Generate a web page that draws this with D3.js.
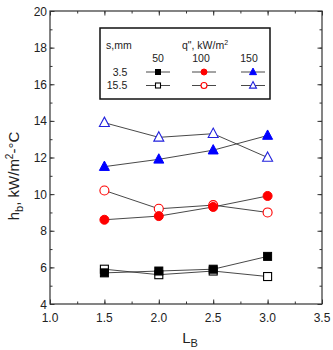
<!DOCTYPE html>
<html><head><meta charset="utf-8">
<script src="https://cdn.jsdelivr.net/npm/d3@7"></script>
<style>body{margin:0;background:#fff}svg{display:block;font-family:Arial,"Liberation Sans",sans-serif}</style>
</head><body><svg id="c" width="333" height="350"></svg>
<script>
const xVals = [1.5, 2.0, 2.5, 3.0];
const xTicks = [1.0, 1.5, 2.0, 2.5, 3.0, 3.5];
const yTicks = [4, 6, 8, 10, 12, 14, 16, 18, 20];
const q50_s35 = [5.7, 5.8, 5.9, 6.6];
const q50_s155 = [5.9, 5.6, 5.8, 5.5];
const q100_s35 = [8.6, 8.8, 9.3, 9.9];
const q100_s155 = [10.2, 9.2, 9.4, 9.0];
const q150_s35 = [11.5, 11.9, 12.4, 13.2];
const q150_s155 = [13.9, 13.1, 13.3, 12.0];

const series = [
  {v: q50_s155, shape: "square", color: "#000", fill: false},
  {v: q50_s35, shape: "square", color: "#000", fill: true},
  {v: q100_s155, shape: "circle", color: "#ff0000", fill: false},
  {v: q100_s35, shape: "circle", color: "#ff0000", fill: true},
  {v: q150_s155, shape: "triangle", color: "#2222dd", fill: false},
  {v: q150_s35, shape: "triangle", color: "#0000ff", fill: true}
];

const L = 50, R = 322, T = 11, B = 304;
const svg = d3.select("#c");
const x = d3.scaleLinear().domain([1.0, 3.5]).range([L, R]);
const y = d3.scaleLinear().domain([4, 20]).range([B, T]);

const minorX = d3.range(1.0, 3.51, 0.25);
const minorY = d3.range(4, 20.01, 1);

// frame
svg.append("rect").attr("x", L).attr("y", T).attr("width", R - L).attr("height", B - T)
  .attr("fill", "none").attr("stroke", "#333").attr("stroke-width", 1.2);

function ticksG(axisGen, tx, ty, vals, size) {
  const g = svg.append("g").attr("transform", `translate(${tx},${ty})`)
    .call(axisGen.tickValues(vals).tickSize(size).tickFormat(""));
  g.select(".domain").remove();
  g.selectAll("line").attr("stroke", "#333");
  return g;
}
// inward ticks
ticksG(d3.axisTop(x), 0, B, minorX, 2.5);
ticksG(d3.axisTop(x), 0, B, xTicks, 4.5);
ticksG(d3.axisBottom(x), 0, T, minorX, 2.5);
ticksG(d3.axisBottom(x), 0, T, xTicks, 4.5);
ticksG(d3.axisRight(y), L, 0, minorY, 2.5);
ticksG(d3.axisRight(y), L, 0, yTicks, 4.5);
ticksG(d3.axisLeft(y), R, 0, minorY, 2.5);
ticksG(d3.axisLeft(y), R, 0, yTicks, 4.5);

// tick labels
svg.append("g").selectAll("text").data(xTicks).join("text")
  .attr("x", d => x(d)).attr("y", B + 18).attr("text-anchor", "middle")
  .attr("font-size", 12).attr("fill", "#222").text(d => d3.format(".1f")(d));
svg.append("g").selectAll("text").data(yTicks).join("text")
  .attr("x", L - 3).attr("y", d => y(d) + 4.5).attr("text-anchor", "end")
  .attr("font-size", 12).attr("fill", "#222").text(d => d);

// axis titles
const xt = svg.append("text").attr("x", 190).attr("y", 343).attr("text-anchor", "middle")
  .attr("font-size", 15).attr("fill", "#222");
xt.append("tspan").text("L");
xt.append("tspan").attr("font-size", 11).attr("dy", 4).text("B");

const yt = svg.append("text").attr("transform", "translate(19,176) rotate(-90)")
  .attr("text-anchor", "middle").attr("font-size", 15).attr("fill", "#222");
yt.append("tspan").text("h");
yt.append("tspan").attr("font-size", 11).attr("dy", 4).text("b");
yt.append("tspan").attr("dy", -4).text(",  kW/m");
yt.append("tspan").attr("font-size", 10).attr("dy", -6).text("2");
yt.append("tspan").attr("dy", 6).text("-°C");

// markers
function marker(g, shape, cx, cy, s, color, fill) {
  let el;
  if (shape === "square") {
    el = g.append("rect").attr("x", cx - s / 2).attr("y", cy - s / 2).attr("width", s).attr("height", s);
  } else if (shape === "circle") {
    el = g.append("circle").attr("cx", cx).attr("cy", cy).attr("r", s / 2);
  } else {
    const h = s * 0.9;
    el = g.append("path").attr("d", `M${cx},${cy - h * 0.62}L${cx + s / 2},${cy + h * 0.42}L${cx - s / 2},${cy + h * 0.42}Z`);
  }
  el.attr("fill", fill ? color : "#fff").attr("stroke", color).attr("stroke-width", fill ? 1 : 1.1);
}

const line = d3.line().x((d, i) => x(xVals[i])).y(d => y(d));
series.forEach(s => {
  svg.append("path").attr("d", line(s.v)).attr("fill", "none").attr("stroke", "#333").attr("stroke-width", 0.9);
});
series.forEach(s => {
  const g = svg.append("g");
  const sz = s.shape === "square" ? 8 : (s.shape === "circle" ? 9 : 10);
  s.v.forEach((v, i) => marker(g, s.shape, x(xVals[i]), y(v), sz, s.color, s.fill));
});

// legend
const lg = svg.append("g");
lg.append("rect").attr("x", 100).attr("y", 28).attr("width", 170).attr("height", 71)
  .attr("fill", "#fff").attr("stroke", "#111").attr("stroke-width", 1.5);
const lt = (tx, ty, str, anchor) => lg.append("text").attr("x", tx).attr("y", ty)
  .attr("text-anchor", anchor || "middle").attr("font-size", 10.5).attr("fill", "#222").text(str);
lt(106, 49, "s,mm", "start");
const qt = lt(205, 49, "q\", kW/m");
qt.append("tspan").attr("font-size", 7).attr("dy", -4).text("2");
const qLabels = ["50", "100", "150"];
const colX = [158, 204, 253];
const labX = [158, 201, 249];
qLabels.forEach((q, i) => lt(labX[i], 62, q));
lt(120, 76, "3.5");
lt(117, 89, "15.5");
const legRows = [[1, 3, 5], [0, 2, 4]];
legRows.forEach((row, r) => {
  const yy = r === 0 ? 72 : 85.5;
  row.forEach((si, c) => {
    const s = series[si];
    lg.append("line").attr("x1", colX[c] - 12).attr("x2", colX[c] + 12).attr("y1", yy).attr("y2", yy)
      .attr("stroke", "#333").attr("stroke-width", 0.9);
    const sz = s.shape === "square" ? 5 : (s.shape === "circle" ? 6 : 7);
    marker(lg, s.shape, colX[c], yy, sz, s.color, s.fill);
  });
});
</script></body></html>
